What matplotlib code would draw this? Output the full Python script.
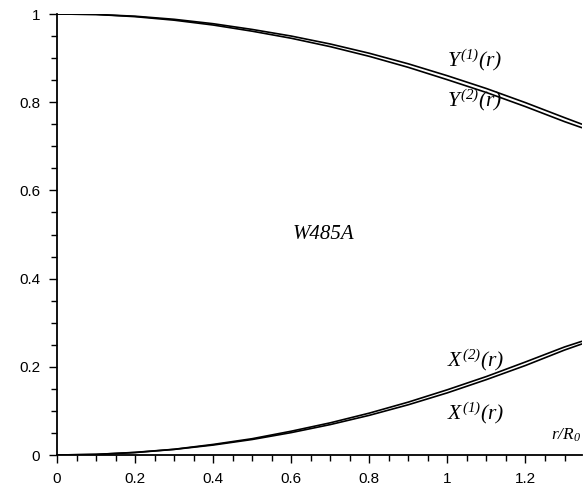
import matplotlib
matplotlib.use('Agg')
from matplotlib import pyplot as plt
from matplotlib.ticker import MultipleLocator, FormatStrFormatter

# radial coordinate r/R0
r = [0.0, 0.1, 0.2, 0.3, 0.4, 0.5, 0.6, 0.7, 0.8, 0.9, 1.0, 1.1, 1.2, 1.3, 1.345]

# large components
y1 = [1.000, 0.999, 0.995, 0.988, 0.978, 0.965, 0.950, 0.932, 0.911, 0.887,
      0.860, 0.831, 0.799, 0.765, 0.750]
y2 = [1.000, 0.999, 0.994, 0.986, 0.975, 0.961, 0.945, 0.926, 0.904, 0.879,
      0.851, 0.822, 0.790, 0.756, 0.742]

# small components
x1 = [0.000, 0.0014, 0.0056, 0.0127, 0.0226, 0.0352, 0.0508, 0.069, 0.090,
      0.114, 0.141, 0.171, 0.203, 0.238, 0.252]
x2 = [0.000, 0.0014, 0.006, 0.013, 0.024, 0.037, 0.054, 0.073, 0.095,
      0.120, 0.148, 0.178, 0.211, 0.245, 0.258]

x_ticks = [0, 0.2, 0.4, 0.6, 0.8, 1.0, 1.2]
y_ticks = [0, 0.2, 0.4, 0.6, 0.8, 1.0]

# everything in math mode set in an italic serif
plt.rcParams['mathtext.fontset'] = 'custom'
plt.rcParams['mathtext.rm'] = 'Liberation Serif:italic'
plt.rcParams['mathtext.it'] = 'Liberation Serif:italic'
plt.rcParams['mathtext.default'] = 'it'

fig = plt.figure(figsize=(5.86, 4.88), dpi=100)
ax = fig.add_axes([0.0973, 0.0676, 0.896, 0.9037])

for ys in (y1, y2, x1, x2):
    ax.plot(r, ys, color='black', lw=1.2, solid_capstyle='butt')

ax.set_xlim(0, 1.345)
ax.set_ylim(0, 1)
ax.spines['top'].set_visible(False)
ax.spines['right'].set_visible(False)
for s in ('left', 'bottom'):
    ax.spines[s].set_linewidth(1.3)

ax.set_xticks(x_ticks)
ax.set_yticks(y_ticks)
ax.xaxis.set_minor_locator(MultipleLocator(0.05))
ax.yaxis.set_minor_locator(MultipleLocator(0.05))
ax.xaxis.set_major_formatter(FormatStrFormatter('%g'))
ax.yaxis.set_major_formatter(FormatStrFormatter('%g'))
ax.tick_params(which='major', direction='out', length=6, width=1, pad=6,
               labelsize=11)
ax.tick_params(which='minor', direction='out', length=4, width=1)
for lab in ax.get_xticklabels() + ax.get_yticklabels():
    lab.set_fontfamily('Liberation Sans')

lbl = dict(fontsize=15.5, ha='left', va='center')
ax.text(1.0, 0.896, r'$Y^{(1)}(r)$', **lbl)
ax.text(1.0, 0.805, r'$Y^{(2)}(r)$', **lbl)
ax.text(1.0, 0.215, r'$X^{(2)}(r)$', **lbl)
ax.text(1.0, 0.095, r'$X^{(1)}(r)$', **lbl)
ax.text(0.682, 0.5, 'W485A', fontsize=15, family='Liberation Serif',
        style='italic', ha='center', va='center')
ax.text(1.342, 0.045, r'$r/R_0$', fontsize=12.5, ha='right', va='center',
        clip_on=False)

fig.savefig('out.png', dpi=100)
